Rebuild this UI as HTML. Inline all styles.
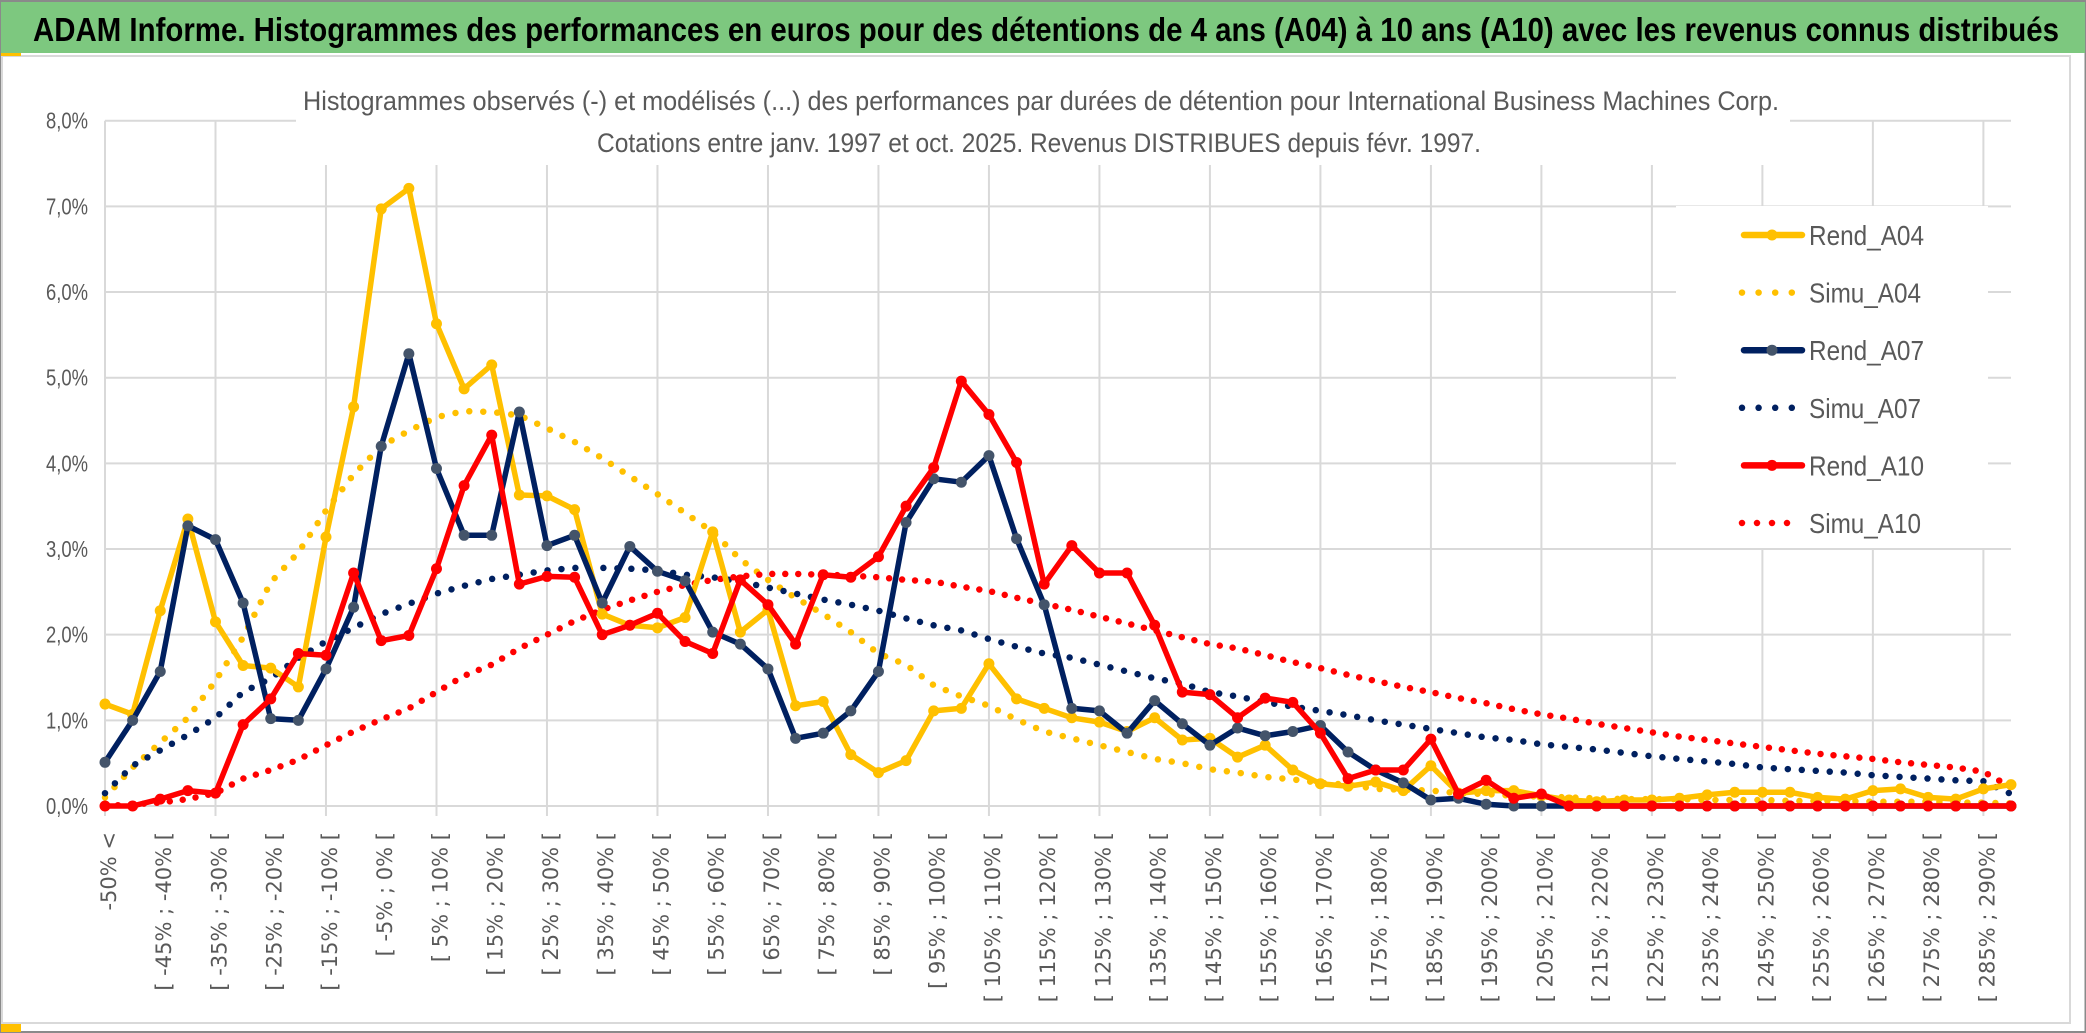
<!DOCTYPE html>
<html><head><meta charset="utf-8"><style>
html,body{margin:0;padding:0;background:#fff;}
svg{display:block;}
</style></head><body>
<svg id="chart" width="2086" height="1033" viewBox="0 0 2086 1033" xmlns="http://www.w3.org/2000/svg">
<rect x="0" y="0" width="2086" height="1033" fill="#fff"/>
<rect x="0.5" y="1" width="2085" height="1031" fill="none" stroke="#8a8a8a" stroke-width="2"/>
<rect x="1" y="2" width="2084" height="51" fill="#7DC87F"/>
<text x="33" y="41" font-family="Liberation Sans, sans-serif" font-weight="bold" font-size="33" fill="#000" textLength="2026" lengthAdjust="spacingAndGlyphs">ADAM Informe. Histogrammes des performances en euros pour des détentions de 4 ans (A04) à 10 ans (A10) avec les revenus connus distribués</text>
<rect x="2" y="56" width="2068" height="967" fill="none" stroke="#d9d9d9" stroke-width="2"/>
<rect x="1" y="53" width="20" height="3" fill="#FFC000"/>
<rect x="1" y="1024" width="20" height="8" fill="#FFC000"/>
<g id="grid"></g>
<rect x="296" y="100" width="1494" height="65" fill="#fff"/>
<text x="303" y="110" font-family="Liberation Sans, sans-serif" font-size="27" fill="#595959" textLength="1476" lengthAdjust="spacingAndGlyphs">Histogrammes observés (-) et modélisés (...) des performances par durées de détention pour International Business Machines Corp.</text>
<text x="597" y="152" font-family="Liberation Sans, sans-serif" font-size="27" fill="#595959" textLength="884" lengthAdjust="spacingAndGlyphs">Cotations entre janv. 1997 et oct. 2025. Revenus DISTRIBUES depuis févr. 1997.</text>
<g id="yaxis"></g>
<g id="xaxis"></g>
<g id="series"></g>
<g id="legend"></g>
</svg>
<script>
const categories = ["-50% <"];
for (let k = 1; k < 70; k++) categories.push("[ " + (-55 + 5 * k) + "% ; " + (-50 + 5 * k) + "% [");
const yTicks = [0,1,2,3,4,5,6,7,8];
const yTickLabels = ["0,0%","1,0%","2,0%","3,0%","4,0%","5,0%","6,0%","7,0%","8,0%"];
const rendA04 = [1.19,1.07,2.28,3.35,2.15,1.64,1.61,1.39,3.14,4.66,6.97,7.21,5.63,4.87,5.15,3.63,3.62,3.46,2.24,2.11,2.08,2.2,3.2,2.03,2.29,1.17,1.22,0.6,0.39,0.53,1.11,1.14,1.66,1.25,1.14,1.03,0.98,0.87,1.03,0.77,0.79,0.57,0.71,0.42,0.26,0.23,0.28,0.18,0.47,0.15,0.18,0.18,0.12,0.07,0.05,0.07,0.07,0.09,0.13,0.16,0.16,0.16,0.1,0.08,0.18,0.2,0.1,0.08,0.2,0.25];
const simuA04 = [0.1,0.45,0.74,1.03,1.46,1.97,2.61,2.96,3.45,3.87,4.2,4.38,4.54,4.61,4.6,4.56,4.41,4.25,4.06,3.85,3.64,3.42,3.2,2.88,2.64,2.43,2.24,2.03,1.78,1.65,1.41,1.28,1.17,1.01,0.87,0.79,0.71,0.63,0.55,0.5,0.43,0.39,0.34,0.31,0.27,0.25,0.2,0.19,0.18,0.15,0.14,0.12,0.11,0.1,0.09,0.08,0.08,0.08,0.07,0.07,0.07,0.06,0.06,0.06,0.05,0.05,0.05,0.04,0.04,0.03];
const rendA07 = [0.51,1.0,1.57,3.27,3.11,2.37,1.02,1.0,1.6,2.32,4.2,5.28,3.94,3.16,3.16,4.6,3.04,3.16,2.37,3.03,2.74,2.63,2.03,1.89,1.6,0.79,0.85,1.11,1.57,3.31,3.82,3.78,4.09,3.12,2.35,1.14,1.11,0.85,1.23,0.96,0.71,0.91,0.82,0.87,0.94,0.63,0.42,0.27,0.07,0.09,0.02,0,0,0,0,0,0,0,0,0,0,0,0,0,0,0,0,0,0,0];
const simuA07 = [0.15,0.47,0.65,0.83,1.03,1.33,1.49,1.73,1.92,2.08,2.24,2.36,2.48,2.57,2.65,2.7,2.75,2.78,2.78,2.77,2.75,2.7,2.67,2.62,2.55,2.48,2.41,2.35,2.28,2.19,2.11,2.05,1.95,1.86,1.78,1.73,1.65,1.57,1.49,1.43,1.33,1.28,1.21,1.16,1.11,1.06,1.0,0.95,0.9,0.85,0.8,0.77,0.72,0.69,0.66,0.62,0.58,0.55,0.52,0.49,0.45,0.43,0.41,0.39,0.36,0.34,0.32,0.3,0.29,0.14];
const rendA10 = [0,0,0.08,0.18,0.15,0.95,1.25,1.78,1.76,2.72,1.93,1.99,2.77,3.74,4.33,2.59,2.68,2.67,2.0,2.11,2.25,1.92,1.78,2.64,2.35,1.89,2.7,2.67,2.91,3.5,3.95,4.96,4.57,4.01,2.59,3.04,2.72,2.72,2.11,1.33,1.3,1.03,1.26,1.21,0.85,0.32,0.42,0.42,0.78,0.14,0.3,0.09,0.14,0,0,0,0,0,0,0,0,0,0,0,0,0,0,0,0,0];
const simuA10 = [0,0.02,0.04,0.08,0.15,0.32,0.42,0.54,0.71,0.87,1.01,1.14,1.33,1.52,1.65,1.84,2.0,2.16,2.29,2.4,2.5,2.58,2.64,2.68,2.71,2.71,2.7,2.69,2.67,2.64,2.62,2.56,2.51,2.43,2.36,2.29,2.21,2.13,2.05,1.97,1.89,1.84,1.76,1.68,1.61,1.53,1.46,1.39,1.33,1.26,1.2,1.13,1.07,1.02,0.96,0.91,0.86,0.81,0.77,0.73,0.69,0.65,0.61,0.58,0.55,0.51,0.48,0.45,0.4,0.22];

const NS = "http://www.w3.org/2000/svg";
const X0 = 105, X1 = 2011, Y0 = 806, Y8 = 120.7;
function xScale(i){ return X0 + i * (X1 - X0) / (categories.length - 1); }
function yScale(v){ return Y0 - v * (Y0 - Y8) / 8; }
function mk(tag, attrs, parent){ const e = document.createElementNS(NS, tag); for (const k in attrs) e.setAttribute(k, attrs[k]); parent.appendChild(e); return e; }

const grid = document.getElementById('grid');
yTicks.forEach(t => {
  const l = mk('line', {x1: X0, x2: X1, y1: yScale(t), y2: yScale(t), stroke: '#d9d9d9', 'stroke-width': 2}, grid);
  
  
});
for (let i = 0; i < categories.length; i += 4) {
  const l = mk('line', {x1: xScale(i), x2: xScale(i), y1: Y8, y2: Y0 + 10, stroke: '#d9d9d9', 'stroke-width': 2}, grid);
  
  
}

const yaxis = document.getElementById('yaxis');
yTicks.forEach((t, k) => {
  const tx = mk('text', {x: 88, y: yScale(t) + 8, 'text-anchor': 'end', 'font-family': 'Liberation Sans, sans-serif', 'font-size': 23, fill: '#595959', textLength: 42, lengthAdjust: 'spacingAndGlyphs'}, yaxis);
  tx.textContent = yTickLabels[k];
  
  
});

const xaxis = document.getElementById('xaxis');
categories.forEach((c, i) => {
  if (i % 2) return;
  const x = xScale(i) + 11, y = 832;
  const tx = mk('text', {x: x, y: y, transform: 'rotate(-90 ' + x + ' ' + y + ')', 'text-anchor': 'end', 'font-family': 'DejaVu Sans, sans-serif', 'font-size': 21, fill: '#595959'}, xaxis);
  tx.textContent = c;
  
  
});

const series = document.getElementById('series');
function pathOf(vals){ return vals.map((v, i) => (i ? 'L' : 'M') + xScale(i).toFixed(1) + ' ' + yScale(v).toFixed(1)).join(' '); }
function dotted(vals, color, gap, name){
  const p = mk('path', {d: pathOf(vals), fill: 'none', stroke: color, 'stroke-width': 6.5, 'stroke-linecap': 'round', 'stroke-dasharray': '0 ' + gap}, series);
  
  
}
function solid(vals, color, mcolor, name){
  const g = mk('g', {}, series);
  
  
  mk('path', {d: pathOf(vals), fill: 'none', stroke: color, 'stroke-width': 5.5, 'stroke-linejoin': 'round'}, g);
  vals.forEach((v, i) => {
    const c = mk('circle', {cx: xScale(i), cy: yScale(v), r: 5.5, fill: mcolor}, g);
    
    
  });
}
dotted(simuA04, '#FFC000', 14, 'simu-a04-line');
dotted(simuA07, '#002060', 14, 'simu-a07-line');
dotted(simuA10, '#FF0000', 13, 'simu-a10-line');
solid(rendA04, '#FFC000', '#FFC000', 'rend-a04-line');
solid(rendA07, '#002060', '#44546A', 'rend-a07-line');
solid(rendA10, '#FF0000', '#FF0000', 'rend-a10-line');

const legend = document.getElementById('legend');
const lb = mk('rect', {x: 1676, y: 206, width: 312, height: 342, fill: '#fff'}, legend);


const legendItems = [
  ['Rend_A04', '#FFC000', '#FFC000', false, 115],
  ['Simu_A04', '#FFC000', null, true, 112],
  ['Rend_A07', '#002060', '#44546A', false, 115],
  ['Simu_A07', '#002060', null, true, 112],
  ['Rend_A10', '#FF0000', '#FF0000', false, 115],
  ['Simu_A10', '#FF0000', null, true, 112]
];
legendItems.forEach((it, k) => {
  const cy = 235 + k * 57.6;
  const g = mk('g', {}, legend);
  
  
  if (it[3]) {
    const end = k === 5 ? 1802 : 1792;
    mk('line', {x1: 1742, x2: end, y1: cy, y2: cy, stroke: it[1], 'stroke-width': 6.5, 'stroke-linecap': 'round', 'stroke-dasharray': '0 ' + (k === 5 ? 15 : 16.6)}, g);
  } else {
    mk('line', {x1: 1744, x2: 1802, y1: cy, y2: cy, stroke: it[1], 'stroke-width': 6.5, 'stroke-linecap': 'round'}, g);
    mk('circle', {cx: 1772, cy: cy, r: 5.5, fill: it[2]}, g);
  }
  const t = mk('text', {x: 1809, y: cy + 10, 'font-family': 'Liberation Sans, sans-serif', 'font-size': 28, fill: '#595959', textLength: it[4], lengthAdjust: 'spacingAndGlyphs'}, g);
  t.textContent = it[0];
});
</script>
</body></html>
